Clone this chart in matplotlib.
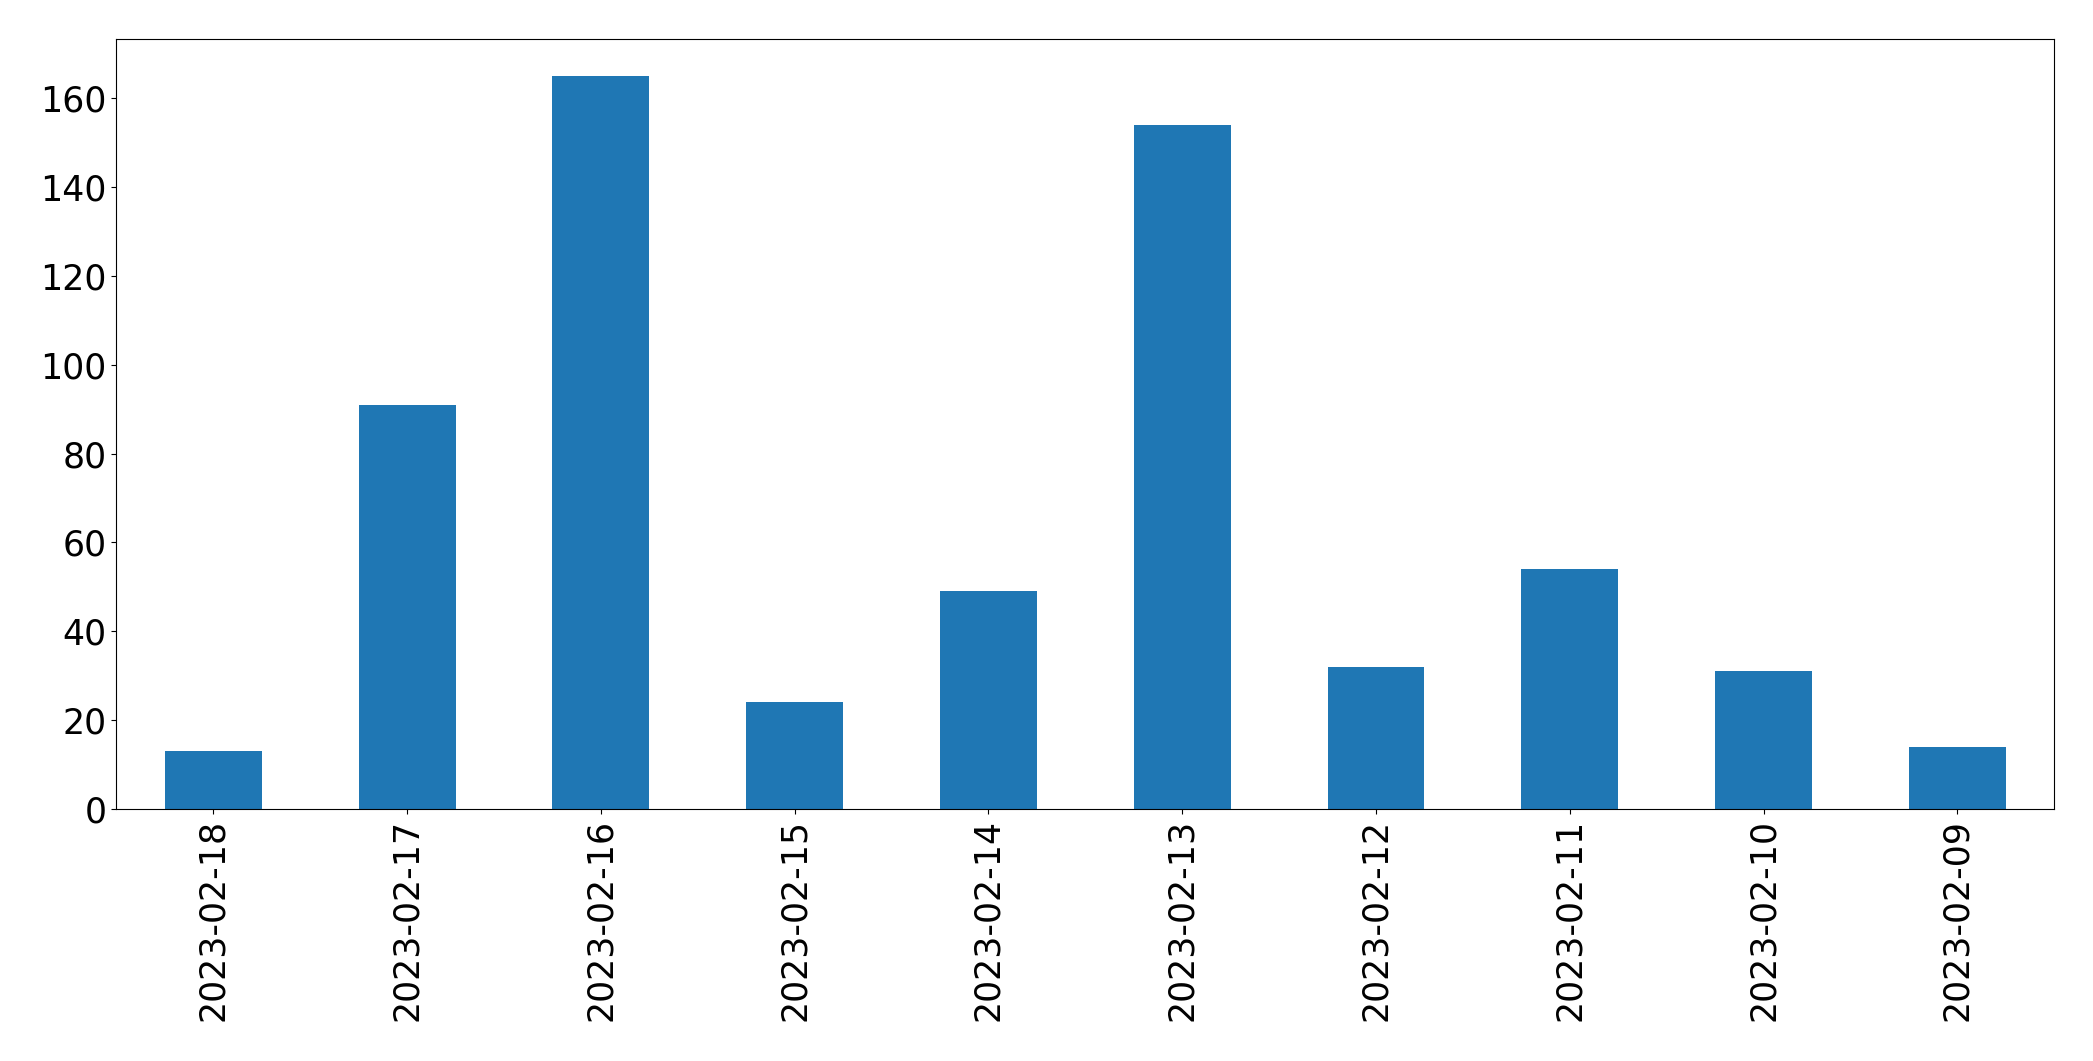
import matplotlib
matplotlib.use('Agg')
import matplotlib.pyplot as plt
import numpy as np

# Datas e contagens
dates = ['2023-02-18', '2023-02-17', '2023-02-16', '2023-02-15', '2023-02-14',
         '2023-02-13', '2023-02-12', '2023-02-11', '2023-02-10', '2023-02-09']
counts = [13, 91, 165, 24, 49, 154, 32, 54, 31, 14]

fig, ax = plt.subplots(figsize=(20.93, 10.61), dpi=100)
x = np.arange(len(dates))
ax.bar(x, counts, width=0.5, color='#1f77b4')
ax.set_xlim(-0.5, len(dates) - 0.5)
ax.set_ylim(0, max(counts) * 1.05)
ax.set_xticks(x)
ax.set_xticklabels(dates, rotation=90)
ax.tick_params(axis='both', labelsize=25)

fig.subplots_adjust(left=0.0556, right=0.9815, top=0.963, bottom=0.2375)
fig.savefig('out.png', dpi=100)
